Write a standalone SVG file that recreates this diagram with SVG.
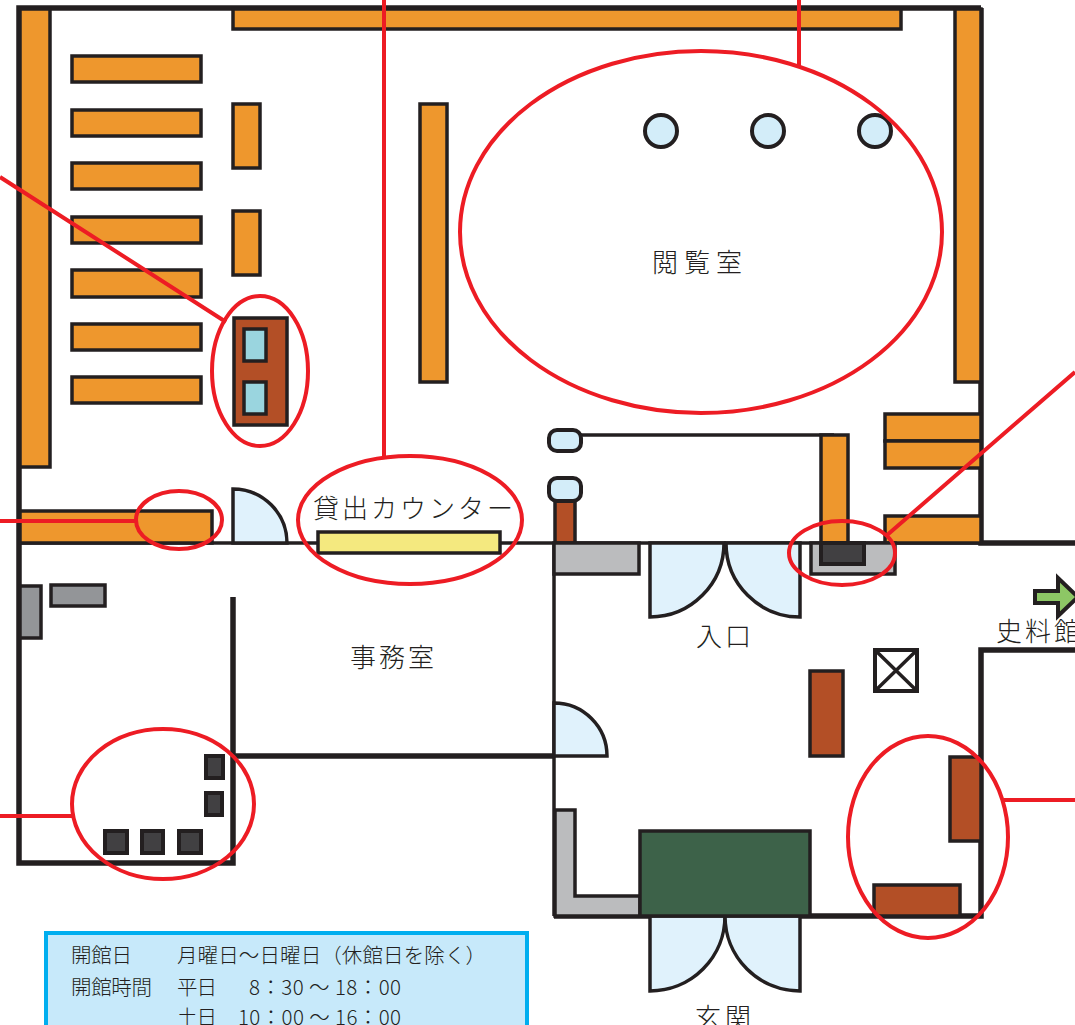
<svg xmlns="http://www.w3.org/2000/svg" width="1075" height="1025" viewBox="0 0 1075 1025">
<style>
.w{fill:none;stroke:#231f20;stroke-width:5.5}
.t{fill:none;stroke:#231f20;stroke-width:3.5}
.o{fill:#ee972d;stroke:#231f20;stroke-width:3.5}
.b{fill:#b34f26;stroke:#231f20;stroke-width:3.5}
.g{fill:#939598;stroke:#231f20;stroke-width:3.5}
.lg{fill:#bbbcbe;stroke:#231f20;stroke-width:3.5}
.d{fill:#414042;stroke:#231f20;stroke-width:4}
.dr{fill:#e0f2fc;stroke:#231f20;stroke-width:3.5}
.c{fill:#d3edf9;stroke:#231f20;stroke-width:4}
.r{fill:none;stroke:#ed1c24;stroke-width:4}
text{font-family:"Noto Sans CJK JP","Noto Sans",sans-serif;fill:#231f20}
.l{font-size:26px;font-weight:300}
.i{font-size:20.5px;font-weight:300}
</style>
<rect width="1075" height="1025" fill="#fff"/>
<g id="walls">
<path class="w" d="M981 8H19V863H233V597"/>
<path class="w" d="M981 8V543H1075"/>
<path class="t" d="M19 543H981"/>
<path class="w" d="M233 756H554"/>
<path class="t" d="M554 543V916"/>
<path class="w" d="M554 916H981V650H1075"/>
<path class="t" d="M581 435H834"/>
</g>
<g id="shelves">
<rect class="o" x="20" y="9" width="30" height="458"/>
<rect class="o" x="233" y="9" width="668" height="20"/>
<rect class="o" x="955" y="9" width="26" height="373"/>
<rect class="o" x="72" y="56" width="129" height="26"/>
<rect class="o" x="72" y="110" width="129" height="26"/>
<rect class="o" x="72" y="163" width="129" height="26"/>
<rect class="o" x="72" y="217" width="129" height="26"/>
<rect class="o" x="72" y="270" width="129" height="27"/>
<rect class="o" x="72" y="324" width="129" height="26"/>
<rect class="o" x="72" y="377" width="129" height="26"/>
<rect class="o" x="233" y="104" width="27" height="64"/>
<rect class="o" x="233" y="211" width="27" height="64"/>
<rect class="o" x="420" y="104" width="27" height="278"/>
<rect class="o" x="821" y="435" width="27" height="108"/>
<rect class="o" x="885" y="414" width="96" height="27"/>
<rect class="o" x="885" y="441" width="96" height="27"/>
<rect class="o" x="885" y="516" width="96" height="27"/>
<rect class="o" x="20" y="511" width="192" height="32"/>
</g>
<g id="search-desk">
<rect class="b" x="234" y="318" width="53" height="107"/>
<rect x="244" y="329" width="22" height="32" fill="#9ad5df" stroke="#231f20" stroke-width="3.5"/>
<rect x="244" y="382" width="22" height="32" fill="#9ad5df" stroke="#231f20" stroke-width="3.5"/>
</g>
<g id="columns">
<circle class="c" cx="661" cy="131" r="16"/>
<circle class="c" cx="768" cy="131" r="16"/>
<circle class="c" cx="875" cy="131" r="16"/>
</g>
<g id="doors">
<path class="dr" d="M233 543V489A54 54 0 0 1 287 543Z"/>
<path class="dr" d="M554 756V703A53 53 0 0 1 607 756Z"/>
<path class="dr" d="M650 543H724A74 74 0 0 1 650 617Z"/>
<path class="dr" d="M800 543H726A74 74 0 0 0 800 617Z"/>
<path class="dr" d="M650 916H725A75 75 0 0 1 650 991Z"/>
<path class="dr" d="M800 916H725A75 75 0 0 0 800 991Z"/>
</g>
<g id="counter"><rect x="318" y="532" width="182" height="21" fill="#f4e97f" stroke="#231f20" stroke-width="3.5"/></g>
<g id="lockers-left">
<rect class="g" x="20" y="586" width="21" height="52"/>
<rect class="g" x="51" y="585" width="54" height="21"/>
</g>
<g id="equipment">
<rect class="d" x="206" y="756" width="17" height="22"/>
<rect class="d" x="206" y="793" width="16" height="22"/>
<rect class="d" x="105" y="831" width="22" height="22"/>
<rect class="d" x="142" y="831" width="21" height="22"/>
<rect class="d" x="179" y="831" width="22" height="22"/>
</g>
<g id="entry-fixtures">
<rect x="549" y="430" width="32" height="21" rx="8" class="c"/>
<rect x="555" y="499" width="20" height="44" class="b"/>
<rect x="549" y="478" width="32" height="23" rx="8" class="c"/>
<rect class="lg" x="554" y="543" width="85" height="31"/>
<rect class="lg" x="811" y="543" width="84" height="31"/>
<rect class="d" x="821" y="543" width="43" height="21"/>
<path d="M1035 591H1058V578L1078 597L1058 616V603H1035Z" fill="#8dc765" stroke="#231f20" stroke-width="4"/>
<rect x="875" y="650" width="42" height="41" fill="#fff" stroke="#231f20" stroke-width="4"/>
<path d="M875 650L917 691M917 650L875 691" stroke="#231f20" stroke-width="3.5" fill="none"/>
<rect class="b" x="810" y="671" width="33" height="85"/>
<rect class="b" x="950" y="757" width="31" height="84"/>
<rect class="b" x="874" y="885" width="86" height="31"/>
<path class="lg" d="M555 810H575V896H640V916H555Z"/>
<rect x="640" y="831" width="170" height="85" fill="#3d6249" stroke="#231f20" stroke-width="3.5"/>
</g>
<g id="connectors">
<ellipse class="r" cx="701" cy="232" rx="241" ry="181"/>
<ellipse class="r" cx="260" cy="371" rx="48" ry="75"/>
<ellipse class="r" cx="179" cy="520" rx="43" ry="29"/>
<ellipse class="r" cx="410" cy="520" rx="112" ry="64"/>
<ellipse class="r" cx="842" cy="553" rx="53" ry="32"/>
<ellipse class="r" cx="163" cy="804" rx="91" ry="75"/>
<ellipse class="r" cx="928" cy="837" rx="80" ry="101"/>
<path class="r" d="M799 0V67M384 0V458M0 177L226 322M0 521H137M0 816H73M1075 372L886 536M1075 800H1004"/>
</g>
<g id="labels">
<text class="l" x="652" y="272" textLength="90">閲覧室</text>
<text class="l" x="313" y="518" textLength="200">貸出カウンター</text>
<text class="l" x="350" y="667" textLength="84">事務室</text>
<text class="l" x="696" y="646" textLength="55">入口</text>
<text class="l" x="996" y="641" textLength="84">史料館</text>
<text class="l" x="695" y="1027" textLength="56">玄関</text>
</g>
<g id="info">
<rect x="46" y="933" width="481" height="110" fill="#c7e9fa" stroke="#00aeef" stroke-width="4"/>
<text class="i" x="71" y="963" textLength="61">開館日</text>
<text class="i" x="177" y="963" textLength="309">月曜日〜日曜日（休館日を除く）</text>
<text class="i" x="71" y="995" textLength="81">開館時間</text>
<text class="i" x="177" y="995" textLength="40">平日</text>
<text class="i" x="249" y="995" textLength="152">8：30 〜 18：00</text>
<text class="i" x="177" y="1025" textLength="40">土日</text>
<text class="i" x="238" y="1025" textLength="163">10：00 〜 16：00</text>
</g>
</svg>
